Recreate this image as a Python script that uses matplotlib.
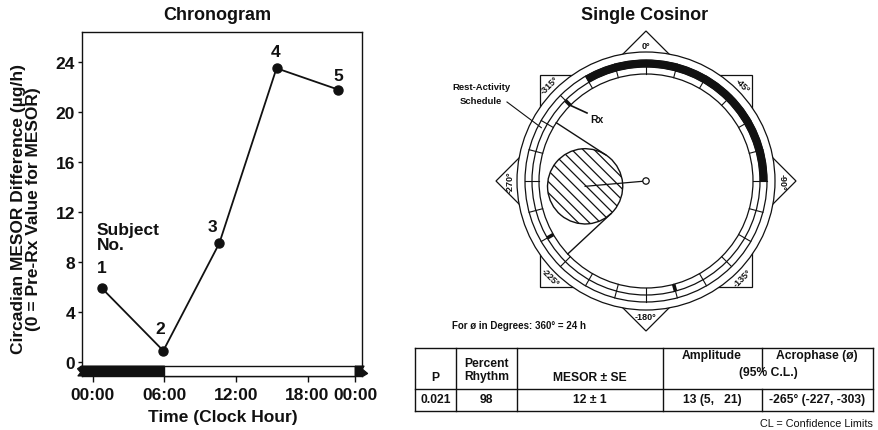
import numpy as np
import matplotlib
matplotlib.use('Agg')
import matplotlib.pyplot as plt
from matplotlib.patches import Polygon, Circle, Wedge, Ellipse

plt.rcParams['font.family'] = ['Liberation Sans', 'DejaVu Sans']
plt.rcParams['font.weight'] = 'bold'
plt.rcParams['hatch.linewidth'] = 0.9

# ---------------- data ----------------
subject_ids = ['1', '2', '3', '4', '5']
clock_hours = [0.75, 5.9, 10.6, 15.4, 20.55]
mesor_diff = [5.9, 0.9, 9.5, 23.5, 21.8]
x_tick_pos = [0, 6, 12, 18, 22]
x_tick_labels = ['00:00', '06:00', '12:00', '18:00', '00:00']
y_ticks = [0, 4, 8, 12, 16, 20, 24]
rest_start_h = 22
rest_end_h = 6

p_value = '0.021'
percent_rhythm = 98
mesor, mesor_se = 12, 1
amplitude = 13
amp_cl = (5, 21)
acrophase = -265
acro_cl = (-227, -303)
marker_hours = [21, 16, 11]          # Rx mark and other marks on schedule ring
corner_labels = ['0°', '-45°', '-90°', '-135°', '-180°', '-225°', '-270°', '-315°']

K = '#111111'
W, H = 879, 431
fig = plt.figure(figsize=(W / 100, H / 100), dpi=100)

# overlay axes in pixel units (y up)
ov = fig.add_axes([0, 0, 1, 1])
ov.set_xlim(0, W)
ov.set_ylim(0, H)
ov.axis('off')
ov.patch.set_visible(False)


def T(x, ytop, s, **kw):
    return ov.text(x, H - ytop, s, **kw)


def fr(x0, y0, x1, y1):
    return [x0 / W, (H - y1) / H, (x1 - x0) / W, (y1 - y0) / H]


# ---------------- Chronogram ----------------
ax = fig.add_axes(fr(82, 33, 362, 377))
XMIN, XMAX, YMIN, YMAX = -0.92, 22.57, -1.12, 26.4
ax.set_xlim(XMIN, XMAX)
ax.set_ylim(YMIN, YMAX)
ax.plot(clock_hours, mesor_diff, color=K, lw=1.3, marker='o', ms=6.5, zorder=5, clip_on=False)
ax.set_yticks(y_ticks)
ax.set_xticks(x_tick_pos, x_tick_labels)
ax.tick_params(axis='y', direction='out', length=3, width=1, pad=2, labelsize=12.5, colors=K)
ax.tick_params(axis='x', direction='out', length=4.3, width=1, pad=3.5, labelsize=12.5, colors=K)
for lab in ax.get_xticklabels() + ax.get_yticklabels():
    lab.set_fontweight('bold')
for sp in ax.spines.values():
    sp.set_color(K)
    sp.set_linewidth(1.0)

# light/dark bar under the zero line
bar_top = -0.32
bar_bot = YMIN
left_black = [(XMIN - 0.05, bar_top), (rest_end_h, bar_top), (rest_end_h, bar_bot),
              (XMIN - 0.35, bar_bot), (XMIN - 0.12, bar_bot + 0.28), (XMIN - 0.38, bar_top - 0.22)]
ax.add_patch(Polygon(left_black, closed=True, fc=K, ec=K, lw=0.8, clip_on=False, zorder=3))
ax.add_patch(Polygon([(rest_end_h, bar_top), (rest_start_h, bar_top), (rest_start_h, bar_bot),
                      (rest_end_h, bar_bot)], closed=True, fc='white', ec=K, lw=1.0,
                     clip_on=False, zorder=3))
right_black = [(rest_start_h, bar_top), (rest_start_h + 0.75, bar_top), (rest_start_h + 0.6, bar_top - 0.25),
               (rest_start_h + 1.05, bar_bot + 0.2), (rest_start_h + 0.7, bar_bot), (rest_start_h, bar_bot)]
ax.add_patch(Polygon(right_black, closed=True, fc=K, ec=K, lw=0.8, clip_on=False, zorder=3))

offsets = [(0, 15), (-2, 16), (-5, 12), (-1, 12), (0, 10)]
for sid, xh, yv, off in zip(subject_ids, clock_hours, mesor_diff, offsets):
    ax.annotate(sid, (xh, yv), xytext=off, textcoords='offset points', ha='center', va='center',
                fontsize=12.5, fontweight='bold', color=K)
ax.text(0.3, 10.0, 'Subject\nNo.', ha='left', va='center', fontsize=12.5, fontweight='bold',
        linespacing=0.95, color=K)

fig.text(217 / W, (H - 15) / H, 'Chronogram', ha='center', va='center', fontsize=13,
         fontweight='bold', color=K)
fig.text(223 / W, (H - 418) / H, 'Time (Clock Hour)', ha='center', va='center', fontsize=12.5,
         fontweight='bold', color=K)
fig.text(26 / W, (H - 209) / H, 'Circadian MESOR Difference (\u00b5g/h)\n(0 = Pre-Rx Value for MESOR)',
         rotation=90, ha='center', va='center', multialignment='center', fontsize=12.5,
         fontweight='bold', linespacing=1.0, color=K)

# ---------------- Single Cosinor ----------------
fig.text(645 / W, (H - 15) / H, 'Single Cosinor', ha='center', va='center', fontsize=13,
         fontweight='bold', color=K)

S = 4.7  # px per µg/h
Cx, Cy = 646, H - 182
R_IN, R_MID, R_ACT, R_OUT, R_SQ, R_LAB = 107, 114, 121, 129, 150, 136


def pol(r, phi):
    t = np.deg2rad(-phi)
    return Cx + r * np.sin(t), Cy + r * np.cos(t)


for base in (0, -45):
    pts = [pol(R_SQ, base - 90 * i) for i in range(4)]
    ov.add_patch(Polygon(pts, closed=True, fc='white', ec=K, lw=0.9, zorder=1))
ov.add_patch(Circle((Cx, Cy), R_OUT, fc='white', ec=K, lw=0.9, zorder=2))
for r in (R_ACT, R_MID, R_IN):
    ov.add_patch(Circle((Cx, Cy), r, fill=False, ec=K, lw=0.9, zorder=3))

phi_s = -15 * rest_start_h
phi_e = -15 * (rest_end_h + 24)
ov.add_patch(Wedge((Cx, Cy), R_ACT, 90 + phi_e, 90 + phi_s, width=R_ACT - R_MID, fc=K, ec=K,
                   lw=0.5, zorder=4))
for hh in range(24):
    x0, y0 = pol(R_IN, -15 * hh)
    x1, y1 = pol(R_ACT, -15 * hh)
    ov.plot([x0, x1], [y0, y1], color=K, lw=0.8, zorder=4)
for hh in marker_hours:
    x0, y0 = pol(R_IN, -15 * hh)
    x1, y1 = pol(R_MID, -15 * hh)
    ov.plot([x0, x1], [y0, y1], color=K, lw=2.6, zorder=5, solid_capstyle='butt')

for i, lab in enumerate(corner_labels):
    th = 45 * i
    x, y = pol(R_LAB, -th)
    if th <= 90 or th >= 270:
        rot = -th
    else:
        rot = 180 - th
    ov.text(x, y, lab, rotation=rot, rotation_mode='anchor', ha='center', va='center',
            fontsize=6.5, fontweight='bold', color=K, zorder=6)

# error ellipse
a = (amp_cl[1] - amp_cl[0]) / 2
half = abs(acro_cl[0] - acro_cl[1]) / 2
b = np.tan(np.deg2rad(half)) * np.sqrt(amplitude ** 2 - a ** 2)
ecx, ecy = pol(amplitude * S, acrophase)
ang = 90 + acrophase
ov.add_patch(Ellipse((ecx, ecy), 2 * a * S, 2 * b * S, angle=ang, fc='white', ec=K,
                     hatch='\\\\\\', lw=1.0, zorder=5))
# tangent (confidence) lines
t = np.linspace(0, 2 * np.pi, 2000)
ca, sa = np.cos(np.deg2rad(ang)), np.sin(np.deg2rad(ang))
ex = ecx + a * S * np.cos(t) * ca - b * S * np.sin(t) * sa
ey = ecy + a * S * np.cos(t) * sa + b * S * np.sin(t) * ca
pang = np.degrees(np.arctan2(ey - Cy, ex - Cx))
dang = (pang - ang + 180) % 360 - 180
for idx in (np.argmax(dang), np.argmin(dang)):
    px, py = ex[idx], ey[idx]
    d = np.hypot(px - Cx, py - Cy)
    qx, qy = Cx + (px - Cx) / d * R_IN, Cy + (py - Cy) / d * R_IN
    ov.plot([px, qx], [py, qy], color=K, lw=1.0, zorder=5)
ov.plot([Cx, ecx], [Cy, ecy], color=K, lw=0.9, zorder=6)
ov.add_patch(Circle((Cx, Cy), 3.2, fc='white', ec=K, lw=0.9, zorder=7))

# annotations on diagram
T(481, 88, 'Rest-Activity', ha='center', va='center', fontsize=6.8, fontweight='bold', color=K)
T(481, 102, 'Schedule', ha='center', va='center', fontsize=6.8, fontweight='bold', color=K)
lx, ly = pol((R_MID + R_ACT) / 2, -297)
ov.plot([507, lx], [H - 103, ly], color=K, lw=0.8, zorder=6)
rx0, ry0 = pol(R_IN, -15 * marker_hours[0])
ov.plot([rx0, 587], [ry0, H - 114], color=K, lw=1.2, zorder=6)
T(597, 120, 'Rx', ha='center', va='center', fontsize=7.5, fontweight='bold', color=K)
T(452, 326, 'For \u00f8 in Degrees: 360\u00b0 = 24 h', ha='left', va='center', fontsize=7,
  fontweight='bold', color=K)

# ---------------- table ----------------
xs = [415, 456, 517, 663, 762, 873]
y_top, y_mid, y_bot = 349, 390, 412
lw_t = 1.0
for yy in (y_top, y_mid, y_bot):
    ov.plot([xs[0], xs[-1]], [H - yy, H - yy], color=K, lw=lw_t)
for xx in (xs[0], xs[1], xs[2], xs[3], xs[5]):
    ov.plot([xx, xx], [H - y_top, H - y_bot], color=K, lw=lw_t)
ov.plot([xs[4], xs[4]], [H - y_top, H - 372], color=K, lw=lw_t)
ov.plot([xs[4], xs[4]], [H - y_mid, H - y_bot], color=K, lw=lw_t)

fs_t = 8.7
hdr = dict(ha='center', va='center', fontsize=fs_t, fontweight='bold', color=K)
T(435.5, 378, 'P', **hdr)
T(486.5, 364, 'Percent', **hdr)
T(486.5, 377, 'Rhythm', **hdr)
T(590, 378, 'MESOR \u00b1 SE', **hdr)
T(712, 356, 'Amplitude', **hdr)
T(817, 356, 'Acrophase (\u00f8)', **hdr)
T(768, 373, '(95% C.L.)', **hdr)
row_y = 400
T(435.5, row_y, p_value, **hdr)
T(486.5, row_y, f'{percent_rhythm}', **hdr)
T(590, row_y, f'{mesor} \u00b1 {mesor_se}', **hdr)
T(712, row_y, f'{amplitude} ({amp_cl[0]},   {amp_cl[1]})', **hdr)
T(817, row_y, f'{acrophase}\u00b0 ({acro_cl[0]}, {acro_cl[1]})', **hdr)
T(873, 424, 'CL = Confidence Limits', ha='right', va='center', fontsize=7.8, fontweight='normal',
  color=K)

fig.savefig('out.png', dpi=100)
